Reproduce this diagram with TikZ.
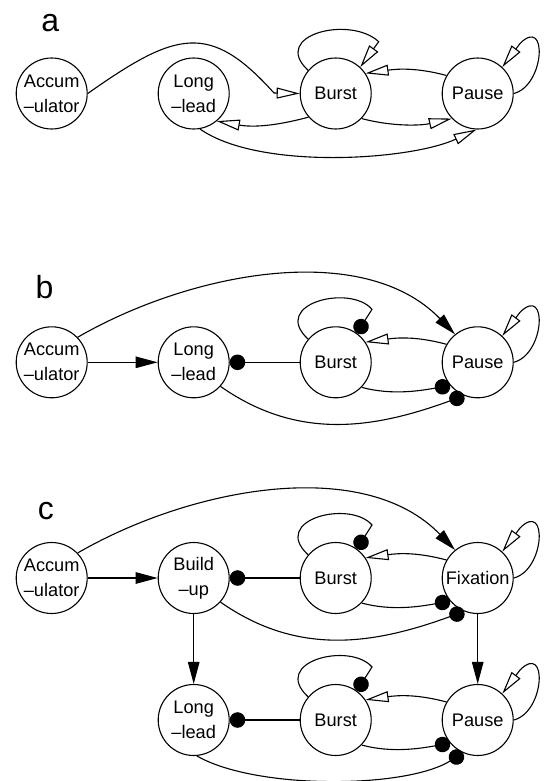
\documentclass[tikz,border=0pt]{standalone}
\usepackage{fontspec}
\setmainfont{Liberation Sans}
\usetikzlibrary{arrows.meta}

\tikzset{
  state/.style={circle, draw, line width=1.1pt, minimum size=71pt, inner sep=0pt,
    align=center, font=\fontsize{18.2}{25}\selectfont},
  panel/.style={anchor=base, inner sep=0pt, font=\fontsize{32}{32}\selectfont},
  link/.style={line width=1.1pt},
  oarr/.style={link, -{Triangle[open, length=23pt, width=11pt]}},
  farr/.style={link, -{Triangle[length=22pt, width=11.5pt]}},
  dotarr/.style={link, -{Circle[length=15.5pt]}},
}

\begin{document}
\begin{tikzpicture}[x=1pt, y=1pt]
\fill[white] (0,0) rectangle (544,-781);
\useasboundingbox (0,0) rectangle (544,-781);

% ---------------- panel a ----------------
\node[panel] (la) at (50.3,-31.2) {a};
\begin{scope}[yshift=-93.5pt]
  \node[state] (a1) at (51.7,0)  {Accum\\–ulator};
  \node[state] (a2) at (193.7,0) {Long\\–lead};
  \node[state] (a3) at (335.7,0) {Burst};
  \node[state] (a4) at (477.7,0) {Pause};

  \draw[oarr] (a1.east) .. controls (176.5,62.6) and (209.8,71.8) .. (274,0.5) -- (a3.west);
  \draw[oarr] (a3.140) .. controls (270,58.5) and (350,78.5) .. (378.7,51.8) -- (a3.47);
  \draw[oarr] (a4.150) to[out=165, in=8] (a3.34);
  \draw[oarr] (a3.-44) to[out=-15, in=193, looseness=0.9] (a4.224);
  \draw[oarr] (a3.221) to[out=195, in=-10] (a2.-50);
  \draw[oarr] (a2.280) to[out=-35, in=205, looseness=0.67] (a4.268);
  \draw[oarr] (a4.0) .. controls (545,8) and (548,78) .. (520,50) -- (a4.47);
\end{scope}

% ---------------- panel b ----------------
\node[panel] (lb) at (44.6,-298) {b};
\begin{scope}[yshift=-362.3pt]
  \node[state] (b1) at (51.7,0)  {Accum\\–ulator};
  \node[state] (b2) at (193.7,0) {Long\\–lead};
  \node[state] (b3) at (335.7,0) {Burst};
  \node[state] (b4) at (477.7,0) {Pause};

  \draw[farr] (b1) -- (b2);
  \draw[farr] (b1.44) to[out=30, in=134, looseness=0.89] (b4.129);
  \draw[dotarr] (b3) -- (b2);
  \draw[dotarr] (b3.140) .. controls (270,58.5) and (350,78.5) .. (372,53) -- (b3.54);
  \draw[oarr] (b4.150) to[out=165, in=8] (b3.34);
  \draw[dotarr] (b3.-44) to[out=-15, in=190, looseness=0.9] (b4.220);
  \draw[dotarr] (b2.-42) to[out=-35, in=200] (b4.248);
  \draw[oarr] (b4.0) .. controls (545,8) and (548,78) .. (520,50) -- (b4.47);
\end{scope}

% ---------------- panel c ----------------
\node[panel] (lc) at (45.8,-519) {c};
\begin{scope}[yshift=-578pt]
  \node[state] (c1) at (51.7,0)  {Accum\\–ulator};
  \node[state] (c2) at (193.7,0) {Build\\–up};
  \node[state] (c3) at (335.7,0) {Burst};
  \node[state] (c4) at (477.7,0) {Fixation};

  \draw[farr] (c1) -- (c2);
  \draw[farr] (c1.44) to[out=30, in=134, looseness=0.89] (c4.129);
  \draw[dotarr] (c3) -- (c2);
  \draw[dotarr] (c3.140) .. controls (270,58.5) and (350,78.5) .. (372,53) -- (c3.54);
  \draw[oarr] (c4.150) to[out=165, in=8] (c3.34);
  \draw[dotarr] (c3.-44) to[out=-15, in=190, looseness=0.9] (c4.220);
  \draw[dotarr] (c2.-42) to[out=-35, in=200] (c4.248);
  \draw[oarr] (c4.0) .. controls (545,8) and (548,78) .. (520,50) -- (c4.47);
\end{scope}

\begin{scope}[yshift=-720pt]
  \node[state] (d2) at (193.7,0) {Long\\–lead};
  \node[state] (d3) at (335.7,0) {Burst};
  \node[state] (d4) at (477.7,0) {Pause};

  \draw[dotarr] (d3) -- (d2);
  \draw[dotarr] (d3.140) .. controls (270,58.5) and (350,78.5) .. (372,53) -- (d3.54);
  \draw[oarr] (d4.150) to[out=165, in=8] (d3.34);
  \draw[dotarr] (d3.-44) to[out=-15, in=190, looseness=0.9] (d4.220);
  \draw[dotarr] (d2.275) to[out=-30, in=212, looseness=0.65] (d4.246);
  \draw[oarr] (d4.0) .. controls (545,8) and (548,78) .. (520,50) -- (d4.47);
\end{scope}

% vertical links between the two rows of panel c
\draw[farr] (c2) -- (d2);
\draw[farr] (c4) -- (d4);
\end{tikzpicture}
\end{document}
